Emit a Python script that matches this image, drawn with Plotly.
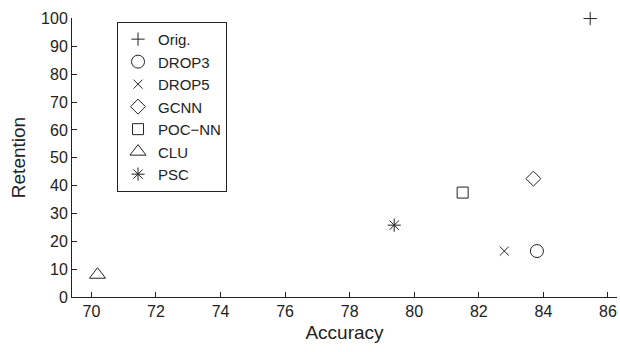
import plotly.graph_objects as go

names = ["Orig.", "DROP3", "DROP5", "GCNN", "POC\u2212NN", "CLU", "PSC"]
accuracy = [85.45, 83.8, 82.79, 83.69, 81.5, 70.19, 79.38]
retention = [100, 16.5, 16.5, 42.5, 37.5, 8, 25.8]
symbols = ["cross-thin-open", "circle-open", "x-thin-open", "diamond-open",
           "square-open", "triangle-up-open", "asterisk-open"]
sizes = [9.5, 13, 9, 11.5, 11, 14, 11]

x_ticks = [70, 72, 74, 76, 78, 80, 82, 84, 86]
y_ticks = [0, 10, 20, 30, 40, 50, 60, 70, 80, 90, 100]

FONT = "Liberation Sans, Arial"
INK = "#222222"

fig = go.Figure()
for i, n in enumerate(names):
    fig.add_trace(go.Scatter(
        x=[accuracy[i]], y=[retention[i]], mode="markers", name=n,
        legendgroup=n, cliponaxis=False,
        marker=dict(symbol=symbols[i], size=sizes[i], color=INK,
                    line=dict(width=1, color=INK)),
    ))

axis_common = dict(showgrid=False, zeroline=False, showline=True, linecolor=INK,
                   linewidth=1, ticks="inside", ticklen=5, tickcolor=INK,
                   tickfont=dict(family=FONT, size=16, color=INK),
                   mirror=False)
fig.update_xaxes(range=[69.4, 86.28], tickvals=x_ticks,
                 title=dict(text="Accuracy", font=dict(family=FONT, size=19, color=INK), standoff=6),
                 **axis_common)
fig.update_yaxes(range=[0, 100.2], tickvals=y_ticks,
                 title=dict(text="Retention", font=dict(family=FONT, size=19, color=INK), standoff=10),
                 **axis_common)
fig.update_layout(
    width=620, height=352, margin=dict(l=72, r=3, t=18, b=55),
    plot_bgcolor="white", paper_bgcolor="white",
    legend=dict(x=0.0826, y=0.986, xanchor="left", yanchor="top",
                bordercolor=INK, borderwidth=1, bgcolor="white",
                itemwidth=30, tracegroupgap=0,
                font=dict(family=FONT, size=15, color=INK)),
)
fig.write_html("out.html")
